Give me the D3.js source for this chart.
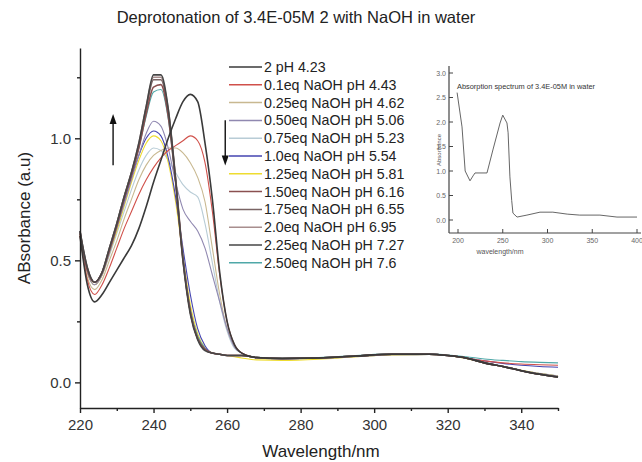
<!DOCTYPE html>
<html><head><meta charset="utf-8">
<script src="https://cdn.jsdelivr.net/npm/d3@7/dist/d3.min.js"></script>
<style>
html,body{margin:0;padding:0;background:#fff;}
text{font-family:"Liberation Sans",Arial,sans-serif;}
</style></head>
<body><svg id="c" width="642" height="462"></svg>
<script>
const wavelengths = [220,222,224,226,228,230,232,234,236,238,240,242,244,246,248,250,252,254,256,258,260,262,264,268,275,285,295,305,315,320,325,330,335,340,345,350];
const seriesNames = ["2 pH 4.23","0.1eq NaOH pH 4.43","0.25eq NaOH pH 4.62","0.50eq NaOH pH 5.06","0.75eq NaOH pH 5.23","1.0eq NaOH pH 5.54","1.25eq NaOH pH 5.81","1.50eq NaOH pH 6.16","1.75eq NaOH pH 6.55","2.0eq NaOH pH 6.95","2.25eq NaOH pH 7.27","2.50eq NaOH pH 7.6"];
const seriesColors = ["#3a3a3a","#d0504a","#c8b890","#9088b0","#b8ccd6","#4444b0","#eedc30","#8a5050","#7a6464","#a88e8e","#464646","#4fa8a8"];
const a_2_00 = [0.60,0.40,0.33,0.36,0.41,0.46,0.51,0.56,0.63,0.72,0.82,0.91,1.00,1.08,1.15,1.18,1.15,0.98,0.75,0.45,0.25,0.155,0.12,0.102,0.098,0.10,0.108,0.115,0.115,0.11,0.10,0.08,0.065,0.048,0.033,0.022];
const a_0_10 = [0.60,0.42,0.36,0.40,0.47,0.55,0.63,0.70,0.77,0.83,0.88,0.92,0.95,0.97,0.99,1.01,0.99,0.90,0.70,0.44,0.25,0.155,0.12,0.102,0.098,0.10,0.108,0.115,0.115,0.11,0.10,0.088,0.08,0.075,0.072,0.07];
const a_0_25 = [0.60,0.43,0.38,0.42,0.50,0.58,0.67,0.75,0.83,0.89,0.93,0.95,0.96,0.96,0.94,0.90,0.84,0.74,0.55,0.36,0.22,0.15,0.12,0.10,0.095,0.098,0.105,0.113,0.114,0.11,0.098,0.08,0.066,0.05,0.036,0.026];
const a_0_50 = [0.61,0.45,0.40,0.44,0.53,0.63,0.73,0.83,0.93,1.02,1.07,1.05,0.96,0.82,0.71,0.66,0.62,0.55,0.44,0.33,0.22,0.145,0.12,0.10,0.096,0.099,0.106,0.113,0.114,0.11,0.099,0.081,0.066,0.05,0.036,0.026];
const a_0_75 = [0.61,0.45,0.40,0.44,0.52,0.61,0.70,0.79,0.87,0.93,0.96,0.95,0.91,0.86,0.81,0.78,0.76,0.65,0.49,0.33,0.21,0.14,0.12,0.10,0.096,0.099,0.106,0.113,0.114,0.11,0.099,0.082,0.067,0.05,0.037,0.027];
const a_1_00 = [0.62,0.46,0.41,0.45,0.54,0.64,0.74,0.84,0.93,1.00,1.03,1.01,0.92,0.76,0.55,0.36,0.22,0.15,0.12,0.115,0.11,0.11,0.11,0.102,0.098,0.10,0.108,0.115,0.115,0.11,0.10,0.088,0.078,0.07,0.065,0.062];
const a_1_25 = [0.61,0.45,0.40,0.44,0.53,0.62,0.72,0.82,0.91,0.98,1.01,0.99,0.90,0.74,0.52,0.32,0.20,0.14,0.12,0.115,0.11,0.105,0.10,0.092,0.09,0.095,0.105,0.112,0.114,0.11,0.098,0.08,0.065,0.05,0.036,0.026];
const a_1_50 = [0.61,0.46,0.41,0.45,0.54,0.64,0.75,0.85,0.96,1.10,1.21,1.22,1.09,0.82,0.50,0.29,0.18,0.135,0.12,0.115,0.11,0.11,0.11,0.102,0.098,0.10,0.108,0.115,0.115,0.11,0.10,0.08,0.065,0.048,0.033,0.022];
const a_1_75 = [0.62,0.47,0.41,0.45,0.55,0.65,0.76,0.86,0.97,1.12,1.24,1.24,1.11,0.83,0.51,0.29,0.18,0.135,0.12,0.115,0.11,0.11,0.11,0.102,0.098,0.10,0.108,0.115,0.115,0.11,0.10,0.08,0.065,0.048,0.033,0.022];
const a_2_0 = [0.62,0.46,0.41,0.45,0.55,0.65,0.76,0.86,0.98,1.13,1.25,1.25,1.12,0.84,0.51,0.29,0.18,0.135,0.12,0.115,0.11,0.11,0.11,0.102,0.098,0.10,0.108,0.115,0.115,0.11,0.10,0.08,0.065,0.048,0.033,0.022];
const a_2_25 = [0.62,0.47,0.41,0.45,0.55,0.65,0.76,0.86,0.98,1.13,1.26,1.26,1.12,0.83,0.50,0.28,0.175,0.13,0.12,0.115,0.11,0.11,0.11,0.102,0.098,0.10,0.108,0.115,0.115,0.11,0.10,0.08,0.065,0.048,0.033,0.022];
const a_2_50 = [0.62,0.46,0.41,0.45,0.54,0.64,0.75,0.85,0.96,1.09,1.19,1.20,1.08,0.82,0.51,0.30,0.19,0.14,0.12,0.115,0.11,0.11,0.11,0.103,0.10,0.102,0.11,0.117,0.117,0.112,0.105,0.096,0.09,0.085,0.082,0.08];
const seriesValues = [a_2_00,a_0_10,a_0_25,a_0_50,a_0_75,a_1_00,a_1_25,a_1_50,a_1_75,a_2_0,a_2_25,a_2_50];
const drawOrder = [4,2,6,11,5,3,1,9,8,7,10,0];
const xMajorTicks = [220,240,260,280,300,320,340];
const xMinorTicks = [230,250,270,290,310,330,350];
const yMajorTicks = [0.0,0.5,1.0];
const yMinorTicks = [0.25,0.75,1.25];

// inset data
const insetWavelengths = [199,204.5,208,213.4,216.8,219,232.4,239,247,250,254.7,256,258,260,261.4,266,277,291.6,306,322,336,358.6,377.6,400];
const insetValues = [2.6,1.9,1.0,0.8,0.9,0.96,0.96,1.43,1.98,2.14,1.98,1.78,0.88,0.4,0.14,0.06,0.1,0.16,0.16,0.12,0.1,0.1,0.06,0.06];
const insetXTicks = [200,250,300,350,400];
const insetYTicks = [0.0,0.5,1.0,1.5,2.0,2.5,3.0];

const svg = d3.select("#c");
svg.append("rect").attr("width",642).attr("height",462).attr("fill","#fff");

const x = d3.scaleLinear().domain([220,350]).range([80,558]);
const y = d3.scaleLinear().domain([-0.105,1.37]).range([408,48]);

const line = d3.line().x((d,i)=>x(wavelengths[i])).y(d=>y(d)).curve(d3.curveMonotoneX);

const gl = svg.append("g");
drawOrder.forEach(k=>{
  const dark = [0,7,8,9,10].includes(k);
  gl.append("path").datum(seriesValues[k]).attr("d",line)
    .attr("fill","none").attr("stroke",seriesColors[k])
    .attr("stroke-width",dark?1.6:1.1).attr("stroke-opacity",1);
});

function styleAxis(g,fs){
  g.selectAll("path,line").attr("stroke","#222").attr("stroke-width",1.4);
  g.selectAll("text").attr("fill","#333").style("font-size",fs+"px");
}
const gx = svg.append("g").attr("transform","translate(0,408)")
  .call(d3.axisBottom(x).tickValues(xMajorTicks).tickFormat(d3.format("d")).tickSize(5).tickSizeOuter(0).tickPadding(6));
styleAxis(gx,15);
const gx2 = svg.append("g").attr("transform","translate(0,408)")
  .call(d3.axisBottom(x).tickValues(xMinorTicks).tickFormat("").tickSize(3).tickSizeOuter(0));
styleAxis(gx2,15); gx2.select(".domain").remove();
const gy = svg.append("g").attr("transform","translate(80,0)")
  .call(d3.axisLeft(y).tickValues(yMajorTicks).tickFormat(d3.format(".1f")).tickSize(5).tickSizeOuter(0).tickPadding(4));
styleAxis(gy,15);
const gy2 = svg.append("g").attr("transform","translate(80,0)")
  .call(d3.axisLeft(y).tickValues(yMinorTicks).tickFormat("").tickSize(3).tickSizeOuter(0));
styleAxis(gy2,15); gy2.select(".domain").remove();

svg.append("text").attr("x",296).attr("y",23).attr("text-anchor","middle")
  .style("font-size","16.5px").attr("fill","#222").text("Deprotonation of 3.4E-05M 2 with NaOH in water");
svg.append("text").attr("x",321).attr("y",457).attr("text-anchor","middle")
  .style("font-size","17px").attr("fill","#222").text("Wavelength/nm");
svg.append("text").attr("transform","translate(30,218) rotate(-90)").attr("text-anchor","middle")
  .style("font-size","17px").attr("fill","#222").text("ABsorbance (a.u)");

// arrows
const arrows = [{w:229,from:0.89,to:1.10},{w:259.5,from:1.074,to:0.889}];
arrows.forEach(a=>{
  const ax=x(a.w), y1=y(a.from), y2=y(a.to), dir = y2<y1?1:-1;
  svg.append("line").attr("x1",ax).attr("x2",ax).attr("y1",y1).attr("y2",y2+dir*8)
    .attr("stroke","#111").attr("stroke-width",1.4);
  svg.append("path").attr("d",`M${ax},${y2} L${ax-3.5},${y2+dir*10} L${ax+3.5},${y2+dir*10} Z`).attr("fill","#111");
});

// legend
const lg = svg.append("g");
seriesNames.forEach((n,i)=>{
  const yy = 67 + i*17.8;
  lg.append("line").attr("x1",229).attr("x2",262).attr("y1",yy).attr("y2",yy)
    .attr("stroke",seriesColors[i]).attr("stroke-width",1.5);
  lg.append("text").attr("x",264).attr("y",yy+5).style("font-size","14.2px").attr("fill","#222").text(n);
});

// inset
const ix = d3.scaleLinear().domain([200,400]).range([458,637]);
const iy = d3.scaleLinear().domain([0,3]).range([220,73]);
const ig = svg.append("g");
ig.append("line").attr("x1",449).attr("x2",449).attr("y1",66).attr("y2",233).attr("stroke","#444").attr("stroke-width",1.2);
ig.append("line").attr("x1",449).attr("x2",641).attr("y1",233).attr("y2",233).attr("stroke","#444").attr("stroke-width",1.2);
insetXTicks.forEach(t=>{
  ig.append("line").attr("x1",ix(t)).attr("x2",ix(t)).attr("y1",233).attr("y2",229).attr("stroke","#444");
  ig.append("text").attr("x",ix(t)).attr("y",243).attr("text-anchor","middle").style("font-size","7px").attr("fill","#666").text(t);
});
insetYTicks.forEach(t=>{
  ig.append("line").attr("x1",449).attr("x2",453).attr("y1",iy(t)).attr("y2",iy(t)).attr("stroke","#444");
  ig.append("text").attr("x",446).attr("y",iy(t)+2.5).attr("text-anchor","end").style("font-size","7px").attr("fill","#666").text(d3.format(".1f")(t));
});
const iline = d3.line().x((d,i)=>ix(insetWavelengths[i])).y(d=>iy(d)).curve(d3.curveLinear);
ig.append("path").datum(insetValues).attr("d",iline).attr("fill","none").attr("stroke","#555").attr("stroke-width",0.9);
ig.append("text").attr("x",457).attr("y",89).style("font-size","7.4px").attr("fill","#333").text("Absorption spectrum of 3.4E-05M in water");
ig.append("text").attr("transform","translate(441,150) rotate(-90)").attr("text-anchor","middle").style("font-size","6px").attr("fill","#555").text("Absorbance");
ig.append("text").attr("x",500).attr("y",254).attr("text-anchor","middle").style("font-size","7px").attr("fill","#555").text("wavelength/nm");
</script></body></html>
